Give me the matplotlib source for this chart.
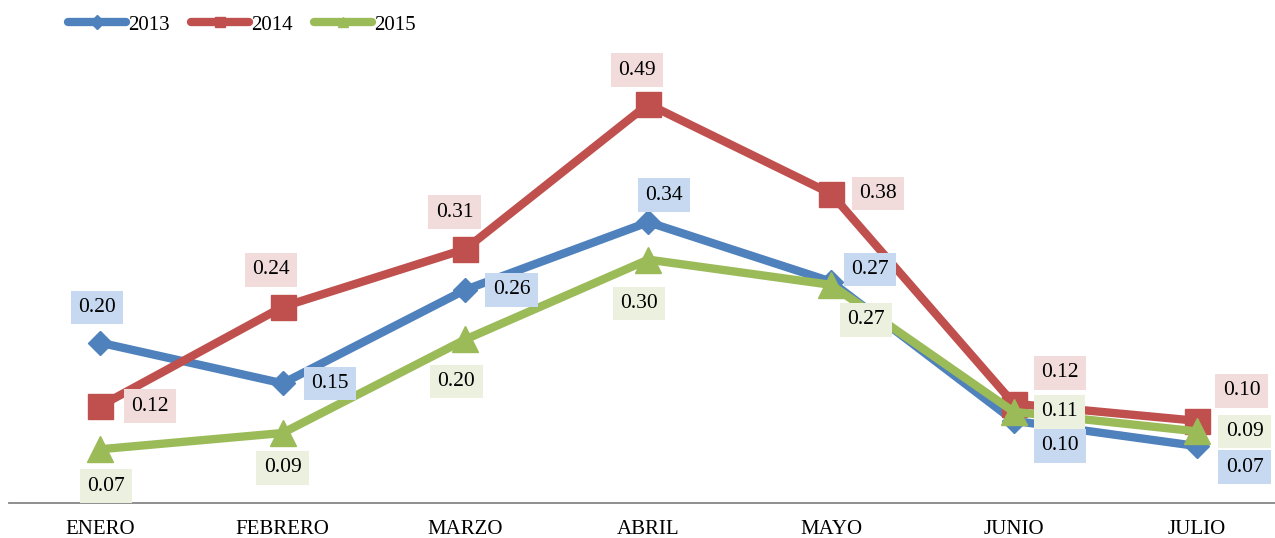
#!/usr/bin/env python3
"""
Line chart: monthly values 2013-2015 (ENERO to JULIO) with boxed data labels
"""

import matplotlib
matplotlib.use('Agg')
import matplotlib.pyplot as plt
from matplotlib.lines import Line2D


months = ['ENERO', 'FEBRERO', 'MARZO', 'ABRIL', 'MAYO', 'JUNIO', 'JULIO']
series_names = ['2013', '2014', '2015']
values_2013 = [0.197, 0.147, 0.262, 0.345, 0.272, 0.101, 0.070]
values_2014 = [0.119, 0.241, 0.312, 0.490, 0.380, 0.122, 0.101]
values_2015 = [0.066, 0.086, 0.201, 0.299, 0.268, 0.112, 0.088]

# style per series: line colour, label box colour, marker, marker size
colors = ['#4F81BD', '#C0504D', '#9BBB59']
box_colors = ['#C6D9F1', '#F2DCDB', '#EBF1DE']
markers = ['D', 's', '^']
marker_sizes = [12.5, 18, 19]

# label offsets in pixels (dx, dy) relative to each point
label_offsets = [
    [(-3, 35), (47, 0), (46, 0), (16, 27), (39, 12), (46, -25), (48, -21)],
    [(50, 0), (-12, 37), (-11, 37), (-11, 34), (47, 0), (46, 31), (45, 30)],
    [(6, -37), (0, -35), (-9, -42), (-9, -44), (35, -35), (46, 0), (48, 0)],
]


def main():
    plt.rcParams['font.family'] = ['Liberation Serif', 'DejaVu Serif']

    fig = plt.figure(figsize=(12.75, 5.38), dpi=100)
    W, H = 1275, 538
    left, right = 8.5, 1288
    bottom, top = 503, 40
    ax = fig.add_axes([left / W, 1 - bottom / H, (right - left) / W, (bottom - top) / H])

    x = list(range(len(months)))
    all_values = [values_2013, values_2014, values_2015]

    for i, vals in enumerate(all_values):
        ax.plot(x, vals, color=colors[i], linewidth=6, marker=markers[i],
                markersize=marker_sizes[i], solid_joinstyle='round',
                solid_capstyle='round', zorder=2 + i)

    # data labels with tinted boxes
    for i, vals in enumerate(all_values):
        for j, v in enumerate(vals):
            dx, dy = label_offsets[i][j]
            ax.annotate(f'{v:.2f}', xy=(j, v), xytext=(dx, dy),
                        textcoords='offset pixels', ha='center', va='center',
                        fontsize=15.5, color='black', zorder=10,
                        bbox=dict(boxstyle='square,pad=0.34',
                                  facecolor=box_colors[i], edgecolor='none'))

    ax.set_xlim(-0.5, 6.5)
    ax.set_ylim(0, (bottom - top) / 814.0)
    ax.set_xticks(x)
    ax.set_xticklabels(months, fontsize=15)
    ax.tick_params(axis='x', length=0, pad=12)
    ax.set_yticks([])

    for side in ['top', 'right', 'left']:
        ax.spines[side].set_visible(False)
    ax.spines['bottom'].set_color('#868686')
    ax.spines['bottom'].set_linewidth(1.3)

    # legend with small markers on thick lines
    handles = [Line2D([0], [0], color=colors[i], linewidth=6, marker=markers[i],
                      markersize=7, solid_capstyle='round')
               for i in range(3)]
    fig.legend(handles, series_names, loc='upper left',
               bbox_to_anchor=(68 / W, 1 - 15 / H), ncol=3, frameon=False,
               fontsize=15, handlelength=2.8, handletextpad=0.1,
               columnspacing=1.0, borderpad=0, borderaxespad=0)

    fig.savefig('out.png', dpi=100)
    plt.close(fig)


if __name__ == '__main__':
    main()
